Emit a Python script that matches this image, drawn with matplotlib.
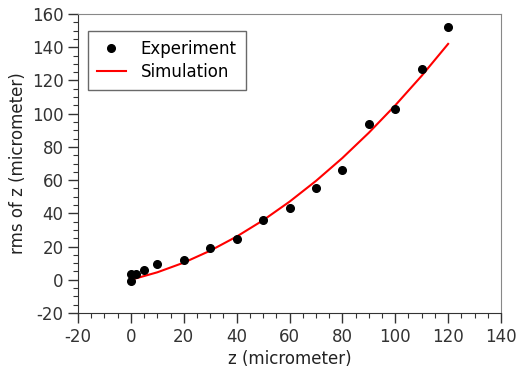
import matplotlib
matplotlib.use('Agg')
import matplotlib.pyplot as plt
from matplotlib.ticker import MultipleLocator

# measured points
exp_z = [0, 0, 2, 5, 10, 20, 30, 40, 50, 60, 70, 80, 90, 100, 110, 120]
exp_rms = [-0.5, 3.5, 3.5, 6, 9.5, 12, 19, 24.5, 36, 43, 55, 66, 94, 103, 127, 152]

# simulated curve
sim_z = [0, 10, 20, 30, 40, 50, 60, 70, 80, 90, 100, 110, 120]
sim_rms = [0, 4.5, 10.3, 17.5, 26.0, 35.8, 47.0, 59.5, 73.3, 88.5, 105.0, 122.8, 142.0]

plt.rcParams['font.family'] = ['DejaVu Sans']
plt.rcParams['axes.unicode_minus'] = False
fig = plt.figure(figsize=(5.18, 3.73), dpi=100)
ax = fig.add_axes([78 / 518, 1 - 313 / 373, 423 / 518, 299 / 373])

ax.plot(sim_z, sim_rms, color='#ff0000', lw=1.5, label='Simulation', zorder=2)
ax.plot(exp_z, exp_rms, 'o', color='black', ms=5.5, label='Experiment', zorder=3)

ax.set_xlim(-20, 140)
ax.set_ylim(-20, 160)
ax.xaxis.set_major_locator(MultipleLocator(20))
ax.xaxis.set_minor_locator(MultipleLocator(5))
ax.yaxis.set_major_locator(MultipleLocator(20))
ax.yaxis.set_minor_locator(MultipleLocator(5))
ax.tick_params(which='major', direction='out', length=7, width=1, labelsize=12,
               colors='#333333', top=False, right=False)
ax.tick_params(which='minor', direction='out', length=3.5, width=0.8,
               color='#333333', top=False, right=False)
for s in ['left', 'bottom']:
    ax.spines[s].set_color('#333333')
for s in ['top', 'right']:
    ax.spines[s].set_color('#888888')

ax.set_xlabel('z (micrometer)', fontsize=12, color='#222222', labelpad=3)
ax.set_ylabel('rms of z (micrometer)', fontsize=12, color='#222222', labelpad=3)

handles, labels = ax.get_legend_handles_labels()
leg = ax.legend(handles[::-1], labels[::-1], loc='upper left', fontsize=12,
                bbox_to_anchor=(88 / 518, 1 - 31 / 373), bbox_transform=fig.transFigure,
                frameon=True, fancybox=False, borderaxespad=0, borderpad=0.55,
                handlelength=1.7, handletextpad=0.9, labelspacing=0.27)
leg.get_frame().set_edgecolor('#444444')
leg.get_frame().set_linewidth(1.0)

fig.savefig('out.png', dpi=100)
